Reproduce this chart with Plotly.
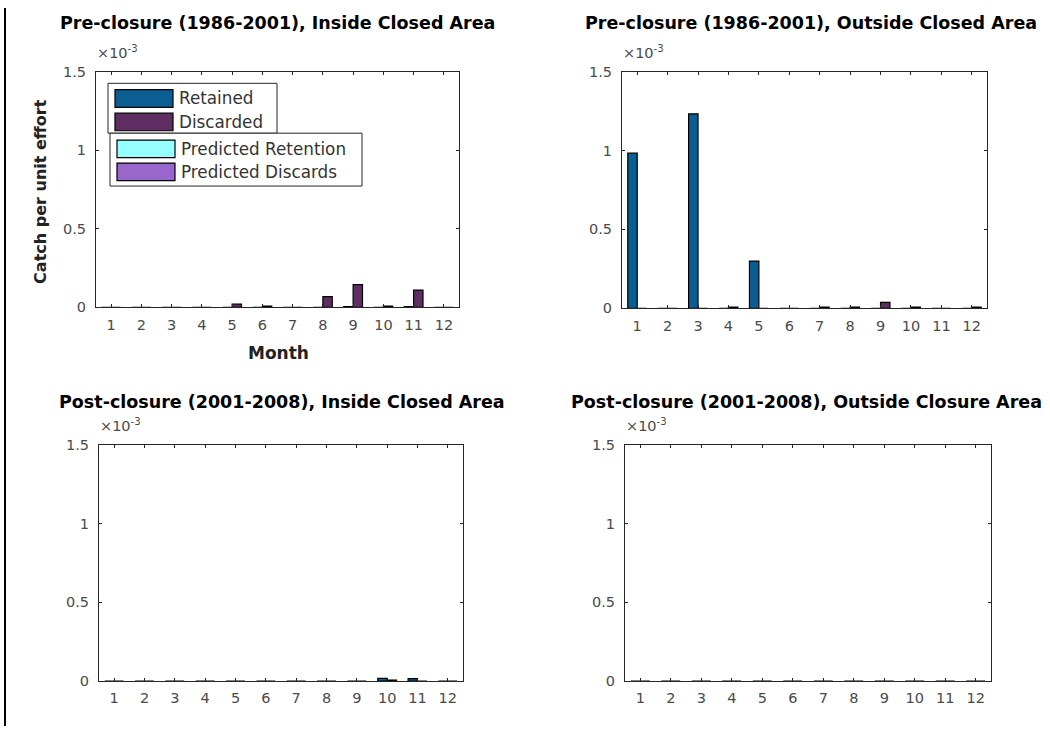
import plotly.graph_objects as go

W, H = 1050, 734

months = list(range(1, 13))
month_labels = [str(m) for m in months]

observed_names = ["Retained", "Discarded"]
predicted_names = ["Predicted Retention", "Predicted Discards"]
observed_colors = ["#0b5e92", "#5f2f63"]
predicted_colors = ["#96ffff", "#9966cc"]

panel_titles = [
    "Pre-closure (1986-2001), Inside Closed Area",
    "Pre-closure (1986-2001), Outside Closed Area",
    "Post-closure (2001-2008), Inside Closed Area",
    "Post-closure (2001-2008), Outside Closure Area",
]

# catch per unit effort by month
pre_inside_retained = [0, 0, 0, 0, 0, 0, 0, 0, 0.000005, 0, 0.000005, 0]
pre_inside_discarded = [0, 0, 0, 0, 0.00002, 0.000008, 0, 0.000068, 0.000145, 0.000008, 0.00011, 0]
pre_outside_retained = [0.000983, 0, 0.001232, 0, 0.000299, 0, 0, 0, 0, 0, 0, 0]
pre_outside_discarded = [0, 0, 0, 0.000008, 0, 0, 0.000007, 0.000007, 0.000038, 0.000007, 0, 0.000007]
post_inside_retained = [0, 0, 0, 0, 0, 0, 0, 0, 0, 0.000017, 0.000015, 0]
post_inside_discarded = [0, 0, 0, 0, 0, 0, 0, 0, 0, 0.000006, 0, 0]
post_outside_retained = [0, 0, 0, 0, 0, 0, 0, 0, 0, 0, 0, 0]
post_outside_discarded = [0, 0, 0, 0, 0, 0, 0, 0, 0, 0, 0, 0]

panel_data = [
    (pre_inside_retained, pre_inside_discarded),
    (pre_outside_retained, pre_outside_discarded),
    (post_inside_retained, post_inside_discarded),
    (post_outside_retained, post_outside_discarded),
]

y_tickvals = [0, 0.0005, 0.001, 0.0015]
y_ticktext = ["0", "0.5", "1", "1.5"]

# axes boxes in pixels: left, top, right, bottom
boxes = [
    (96, 65, 459, 306),
    (622, 65, 987, 307),
    (99, 447, 463, 688),
    (625, 447, 991, 688),
]
# title centre (x shift, y above box top) per panel, in pixels
title_offsets = [(0, 50), (6, 50), (1, 44), (-2, 44)]


def px(x):
    return x / W


def py(y):
    return 1 - y / H


FONT = "DejaVu Sans, Liberation Sans, sans-serif"
AX = "#262626"
TICKFONT = dict(family=FONT, size=14.5, color="#4a4a4a")

fig = go.Figure()
layout = dict(
    width=W, height=H,
    margin=dict(l=0, r=0, t=0, b=0),
    paper_bgcolor="white", plot_bgcolor="white",
    barmode="group", bargap=0.38, bargroupgap=0,
    showlegend=False,
)
annotations = []
shapes = []

for i, (box, title, series) in enumerate(zip(boxes, panel_titles, panel_data)):
    n = "" if i == 0 else str(i + 1)
    l, t, r, b = box
    for vals, name, col in zip(series, observed_names, observed_colors):
        fig.add_trace(go.Bar(
            x=months, y=vals, name=name,
            marker=dict(color=col, line=dict(color="black", width=1.2)),
            xaxis="x" + n, yaxis="y" + n,
            offsetgroup=name, showlegend=False,
        ))
    layout["xaxis" + n] = dict(
        domain=[px(l), px(r)], anchor="y" + n,
        range=[0.5, 12.5], tickvals=months, ticktext=month_labels,
        showline=True, linecolor=AX, linewidth=1, mirror="ticks",
        ticks="inside", ticklen=3, tickcolor=AX, tickwidth=1,
        showgrid=False, zeroline=False, tickfont=TICKFONT,
        ticklabelstandoff=4,
    )
    layout["yaxis" + n] = dict(
        domain=[py(b), py(t)], anchor="x" + n,
        range=[0, 0.0015], tickvals=y_tickvals, ticktext=y_ticktext,
        showline=True, linecolor=AX, linewidth=1, mirror="ticks",
        ticks="inside", ticklen=3, tickcolor=AX, tickwidth=1,
        showgrid=False, zeroline=False, tickfont=TICKFONT,
        ticklabelstandoff=6,
    )
    dx, dy = title_offsets[i]
    annotations.append(dict(
        text="<b>" + title + "</b>", xref="paper", yref="paper",
        x=px((l + r) / 2 + dx), y=py(t - dy), xanchor="center", yanchor="middle",
        showarrow=False, font=dict(family=FONT, size=17.5, color="black"),
    ))
    annotations.append(dict(
        text="\u00d710<sup>-3</sup>", xref="paper", yref="paper",
        x=px(l - 1), y=py(t - 9), xanchor="left", yanchor="bottom",
        showarrow=False, font=dict(family=FONT, size=14.5, color="#4a4a4a"),
    ))

annotations.append(dict(
    text="<b>Month</b>", xref="paper", yref="paper",
    x=px(278), y=py(353), xanchor="center", yanchor="middle",
    showarrow=False, font=dict(family=FONT, size=17, color="#222222"),
))
annotations.append(dict(
    text="<b>Catch per unit effort</b>", xref="paper", yref="paper",
    x=px(41), y=py(188), xanchor="center", yanchor="middle", textangle=-90,
    showarrow=False, font=dict(family=FONT, size=16, color="#222222"),
))

# legend: observed series box, then predicted series box
legend_groups = [
    (observed_names, observed_colors, (108, 77, 277, 128), [92.5, 116.5]),
    (predicted_names, predicted_colors, (110, 128, 362, 182), [144, 167.5]),
]
for names, cols, (l, t, r, b), rows in legend_groups:
    shapes.append(dict(
        type="rect", xref="paper", yref="paper",
        x0=px(l), x1=px(r), y0=py(b), y1=py(t),
        line=dict(color=AX, width=1), fillcolor="white", layer="above",
    ))
    for name, col, yc in zip(names, cols, rows):
        shapes.append(dict(
            type="rect", xref="paper", yref="paper",
            x0=px(l + 7), x1=px(l + 65), y0=py(yc + 9), y1=py(yc - 9),
            line=dict(color="black", width=1.2), fillcolor=col, layer="above",
        ))
        annotations.append(dict(
            text=name, xref="paper", yref="paper",
            x=px(l + 69), y=py(yc), xanchor="left", yanchor="middle",
            showarrow=False, font=dict(family=FONT, size=16.8, color="#333333"),
        ))

# frame line on the left edge
shapes.append(dict(
    type="line", xref="paper", yref="paper",
    x0=px(5), x1=px(5), y0=0, y1=1,
    line=dict(color="black", width=2),
))

layout["annotations"] = annotations
layout["shapes"] = shapes
fig.update_layout(**layout)
fig.write_html("out.html")
